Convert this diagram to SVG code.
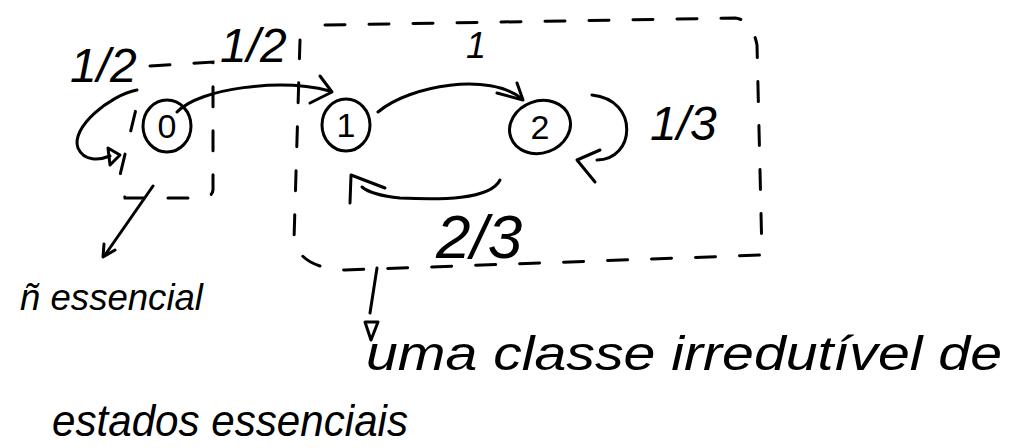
<svg xmlns="http://www.w3.org/2000/svg" width="1015" height="448" viewBox="0 0 1015 448">
<defs>
<style>
.s{fill:none;stroke:#000;stroke-width:3;stroke-linecap:round;stroke-linejoin:round}
.d{fill:none;stroke:#000;stroke-width:3;stroke-linecap:round;stroke-dasharray:20 24}
.t{font-family:"Liberation Sans",Arial,sans-serif;font-style:italic;fill:#000}
.n{font-family:"Liberation Sans",Arial,sans-serif;font-size:34px;fill:#000;text-anchor:middle}
</style>
</defs>
<rect width="1015" height="448" fill="#fff"/>

<g id="boxes">
<path class="d" d="M150,66 L213,62 L213,190 Q212,198 200,198 L125,198 L120,175 L137,105"/>
<path class="d" d="M325,25 L735,18 Q752,20 757,45 L762,255 L345,270 Q300,268 294,240 L300,40"/>
</g>

<g id="node0">
<ellipse class="s" cx="167" cy="126" rx="24" ry="26"/>
<text class="n" x="167" y="138">0</text>
</g>
<g id="node1">
<ellipse class="s" cx="346" cy="125" rx="24" ry="26"/>
<text class="n" x="346" y="137">1</text>
</g>
<g id="node2">
<ellipse class="s" cx="540" cy="127" rx="31" ry="26" transform="rotate(-20 540 127)"/>
<text class="n" x="540" y="139">2</text>
</g>

<g id="connectors">
<path class="s" d="M137,90 C110,95 70,128 78,148 C84,162 100,160 110,156"/>
<path class="s" d="M108,148 L120,155 L110,165 Z"/>
<path class="s" d="M177,112 C200,88 280,78 330,91"/>
<path class="s" d="M320,76 L332,92 L310,103"/>
<path class="s" d="M378,112 C410,85 490,72 522,99"/>
<path class="s" d="M497,93 L523,100 L517,83"/>
<path class="s" d="M592,95 C640,100 635,160 597,160"/>
<path class="s" d="M600,150 L577,160 L595,182"/>
<path class="s" d="M500,180 C490,200 440,200 400,198 C380,196 368,192 362,187"/>
<path class="s" d="M385,188 L351,175 L350,203"/>
<path class="s" d="M153,186 L105,255"/>
<path class="s" d="M104,244 L103,257 L115,250"/>
<path class="s" d="M377,268 L370,313"/>
<path class="s" d="M365,322 L371,340 L378,322 Z"/>
</g>

<g id="labels">
<text class="t" x="70" y="82" font-size="48">1/2</text>
<text class="t" x="220" y="62" font-size="48">1/2</text>
<text class="t" x="466" y="58" font-size="36">1</text>
<text class="t" x="650" y="140" font-size="48">1/3</text>
<text class="t" x="436" y="258" font-size="62">2/3</text>
<text class="t" x="20" y="310" font-size="36" textLength="183" lengthAdjust="spacingAndGlyphs">ñ essencial</text>
<text class="t" x="366" y="370" font-size="48" textLength="636" lengthAdjust="spacingAndGlyphs">uma classe irredutível de</text>
<text class="t" x="52" y="436" font-size="44" textLength="356" lengthAdjust="spacingAndGlyphs">estados essenciais</text>
</g>
</svg>
